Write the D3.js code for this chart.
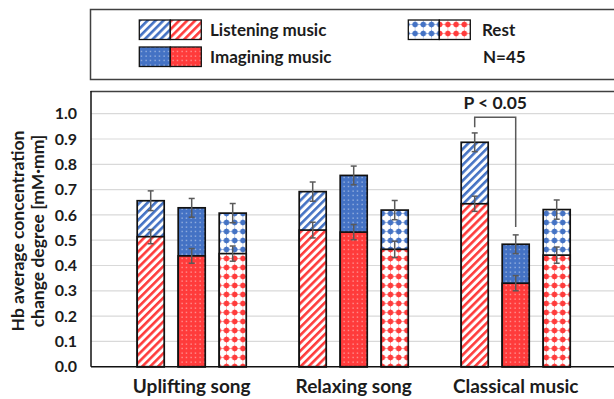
<!DOCTYPE html>
<html>
<head>
<meta charset="utf-8">
<script src="https://cdn.jsdelivr.net/npm/d3@7/dist/d3.min.js"></script>
<style>
  body { margin: 0; background: #fff; }
  svg { display: block; }
  text { font-family: Lato, "Open Sans", sans-serif; font-weight: 700; fill: #1c1c1c; }
</style>
</head>
<body>
<svg id="chart" width="614" height="399"></svg>
<script>
// ---- data ----
const categories = ["Uplifting song", "Relaxing song", "Classical music"];
const conditions = ["Listening music", "Imagining music", "Rest"];
const patternKinds = ["stripe", "dots", "spots"];

// full bar height (blue upper part) per condition, one value per category
const upperListening = [0.656, 0.692, 0.887];
const upperImagining = [0.628, 0.756, 0.484];
const upperRest      = [0.607, 0.619, 0.621];
// lower (red) part per condition
const lowerListening = [0.514, 0.540, 0.644];
const lowerImagining = [0.438, 0.532, 0.330];
const lowerRest      = [0.447, 0.464, 0.441];
// error bar half-lengths
const upperErrListening = [0.039, 0.038, 0.037];
const upperErrImagining = [0.037, 0.037, 0.037];
const upperErrRest      = [0.038, 0.038, 0.038];
const lowerErrListening = [0.028, 0.031, 0.030];
const lowerErrImagining = [0.029, 0.030, 0.030];
const lowerErrRest      = [0.030, 0.032, 0.032];

const yTicks = [0, 0.1, 0.2, 0.3, 0.4, 0.5, 0.6, 0.7, 0.8, 0.9, 1.0];
const yTitleLines = ["Hb average concentration", "change degree [mM\u00B7mm]"];
const sampleNote = "N=45";
const sigLabel = "P < 0.05";
// significance bracket: category, pair of conditions, levels (top, left foot, right foot)
const sigCategory = "Classical music";
const sigPair = ["Listening music", "Imagining music"];
const sigLevels = [0.986, 0.946, 0.552];

const upper = [upperListening, upperImagining, upperRest];
const lower = [lowerListening, lowerImagining, lowerRest];
const upperErr = [upperErrListening, upperErrImagining, upperErrRest];
const lowerErr = [lowerErrListening, lowerErrImagining, lowerErrRest];

const rows = [];
categories.forEach((cat, ci) => {
  conditions.forEach((cond, si) => {
    rows.push({
      category: cat, condition: cond, kind: patternKinds[si],
      upper: upper[si][ci], lower: lower[si][ci],
      upperErr: upperErr[si][ci], lowerErr: lowerErr[si][ci]
    });
  });
});

// ---- setup ----
const W = 614, H = 399;
const BLUE = "#4472c4", RED = "#ff3b3b";
const svg = d3.select("#chart");
const defs = svg.append("defs");

function addPatterns(name, color) {
  // diagonal stripes on white
  const s = defs.append("pattern").attr("id", `stripe-${name}`)
    .attr("patternUnits", "userSpaceOnUse").attr("width", 5.6).attr("height", 5.6)
    .attr("patternTransform", "rotate(45)");
  s.append("rect").attr("width", 5.6).attr("height", 5.6).attr("fill", "#fff");
  s.append("rect").attr("width", 2.6).attr("height", 5.6).attr("fill", color);

  // solid fill with fine white dots
  const d = defs.append("pattern").attr("id", `dots-${name}`)
    .attr("patternUnits", "userSpaceOnUse").attr("width", 4.5).attr("height", 4.5);
  d.append("rect").attr("width", 4.5).attr("height", 4.5).attr("fill", color);
  d.append("rect").attr("x", 1.5).attr("y", 1.5).attr("width", 1.1).attr("height", 1.1)
    .attr("fill", "#fff").attr("opacity", 0.75);

  // white with round spots
  const p = defs.append("pattern").attr("id", `spots-${name}`)
    .attr("patternUnits", "userSpaceOnUse").attr("width", 8.2).attr("height", 9)
    .attr("x", 1).attr("y", 2);
  p.append("rect").attr("width", 8.2).attr("height", 9).attr("fill", "#fff");
  p.append("circle").attr("cx", 4.1).attr("cy", 4.5).attr("r", 2.8).attr("fill", color);
  p.append("path").attr("d", "M4.1,0.4V8.6M0.2,4.5H8")
    .attr("stroke", color).attr("stroke-width", 1).attr("opacity", 0.6);
}
addPatterns("blue", BLUE);
addPatterns("red", RED);

// ---- scales ----
const y = d3.scaleLinear().domain([0, 1]).range([366.7, 113.7]);
const x0 = d3.scaleBand().domain(categories).range([110.7, 596.7]);
const x1 = d3.scaleBand().domain(conditions).range([-54.5, 54.5])
  .paddingInner(14 / 41).paddingOuter(0);
const cx = d => x0(d.category) + x0.bandwidth() / 2 + x1(d.condition);

const axisLeftX = 91, rightEdge = W;

// ---- legend box ----
svg.append("path")
  .attr("d", `M${rightEdge + 2},9.5H90.5V79.5H${rightEdge + 2}`)
  .attr("fill", "none").attr("stroke", "#404040").attr("stroke-width", 1.5);

const legendItems = [
  { kind: "stripe", label: conditions[0], x: 139.3, y: 20, tx: 210, ty: 35.5 },
  { kind: "dots", label: conditions[1], x: 139.3, y: 47, tx: 210, ty: 62.5 },
  { kind: "spots", label: conditions[2], x: 408.3, y: 20, tx: 482, ty: 35.5 }
];
const leg = svg.append("g").selectAll("g").data(legendItems).join("g");
leg.append("rect").attr("x", d => d.x).attr("y", d => d.y)
  .attr("width", 31).attr("height", 19.5)
  .attr("fill", d => `url(#${d.kind}-blue)`).attr("stroke", "#111").attr("stroke-width", 1.3);
leg.append("rect").attr("x", d => d.x + 31).attr("y", d => d.y)
  .attr("width", 31).attr("height", 19.5)
  .attr("fill", d => `url(#${d.kind}-red)`).attr("stroke", "#111").attr("stroke-width", 1.3);
leg.append("text").attr("x", d => d.tx).attr("y", d => d.ty)
  .attr("font-size", 17).text(d => d.label);
svg.append("text").attr("x", 483).attr("y", 62.5).attr("font-size", 17).text(sampleNote);

// ---- plot frame and grid ----
svg.append("line").attr("x1", 90.5).attr("x2", rightEdge + 2)
  .attr("y1", 91.5).attr("y2", 91.5).attr("stroke", "#404040").attr("stroke-width", 1.5);

svg.append("g").selectAll("line").data(yTicks.filter(t => t > 0)).join("line")
  .attr("x1", axisLeftX).attr("x2", rightEdge)
  .attr("y1", d => y(d)).attr("y2", d => y(d))
  .attr("stroke", "#d9d9d9").attr("stroke-width", 1.2);

// y axis labels
const yAxis = svg.append("g").attr("transform", `translate(${axisLeftX},0)`)
  .call(d3.axisLeft(y).tickValues(yTicks).tickFormat(d3.format(".1f"))
    .tickSize(0).tickPadding(14));
yAxis.select(".domain").remove();
yAxis.selectAll("text").attr("font-size", 16).attr("font-family", null).attr("fill", "#1c1c1c");

// y axis title
const yTitle = svg.append("text")
  .attr("transform", "translate(0,231) rotate(-90)")
  .attr("text-anchor", "middle").attr("font-size", 17.5);
yTitle.selectAll("tspan").data(yTitleLines).join("tspan")
  .attr("x", 0).attr("y", (d, i) => 24 + i * 19.5).text(d => d);

// ---- bars ----
const bars = svg.append("g").selectAll("g").data(rows).join("g");
bars.append("rect")
  .attr("x", d => cx(d)).attr("width", x1.bandwidth())
  .attr("y", d => y(d.upper)).attr("height", d => y(0) - y(d.upper))
  .attr("fill", d => `url(#${d.kind}-blue)`)
  .attr("stroke", "#111").attr("stroke-width", 1.7);
bars.append("rect")
  .attr("x", d => cx(d)).attr("width", x1.bandwidth())
  .attr("y", d => y(d.lower)).attr("height", d => y(0) - y(d.lower))
  .attr("fill", d => `url(#${d.kind}-red)`)
  .attr("stroke", "#111").attr("stroke-width", 1.7);

// error bars
function errorBar(sel, valueKey, errKey) {
  const g = sel.append("g").attr("stroke", "#5a5a5a").attr("stroke-width", 1.5);
  const mid = d => cx(d) + x1.bandwidth() / 2;
  g.append("line").attr("x1", mid).attr("x2", mid)
    .attr("y1", d => y(d[valueKey] + d[errKey])).attr("y2", d => y(d[valueKey] - d[errKey]));
  g.append("line").attr("x1", d => mid(d) - 3).attr("x2", d => mid(d) + 3)
    .attr("y1", d => y(d[valueKey] + d[errKey])).attr("y2", d => y(d[valueKey] + d[errKey]));
  g.append("line").attr("x1", d => mid(d) - 3).attr("x2", d => mid(d) + 3)
    .attr("y1", d => y(d[valueKey] - d[errKey])).attr("y2", d => y(d[valueKey] - d[errKey]));
}
errorBar(bars, "upper", "upperErr");
errorBar(bars, "lower", "lowerErr");

// axis lines
svg.append("line").attr("x1", axisLeftX).attr("x2", axisLeftX)
  .attr("y1", 91).attr("y2", y(0)).attr("stroke", "#111").attr("stroke-width", 1.5);
svg.append("line").attr("x1", axisLeftX).attr("x2", rightEdge)
  .attr("y1", y(0)).attr("y2", y(0)).attr("stroke", "#111").attr("stroke-width", 1.5);

// x axis labels
const xAxis = svg.append("g").attr("transform", `translate(0,${y(0)})`)
  .call(d3.axisBottom(x0).tickSize(0).tickPadding(13));
xAxis.select(".domain").remove();
xAxis.selectAll("text").attr("font-size", 19).attr("font-family", null).attr("fill", "#1c1c1c");

// ---- significance bracket ----
const sigX = c => x0(sigCategory) + x0.bandwidth() / 2 + x1(c) + x1.bandwidth() / 2;
const [lx, rx] = sigPair.map(sigX);
svg.append("path")
  .attr("d", `M${lx},${y(sigLevels[1])}V${y(sigLevels[0])}H${rx}V${y(sigLevels[2])}`)
  .attr("fill", "none").attr("stroke", "#5a5a5a").attr("stroke-width", 1.5);
svg.append("text").attr("x", (lx + rx) / 2).attr("y", 108.5)
  .attr("text-anchor", "middle").attr("font-size", 17.5).text(sigLabel);
</script>
</body>
</html>
